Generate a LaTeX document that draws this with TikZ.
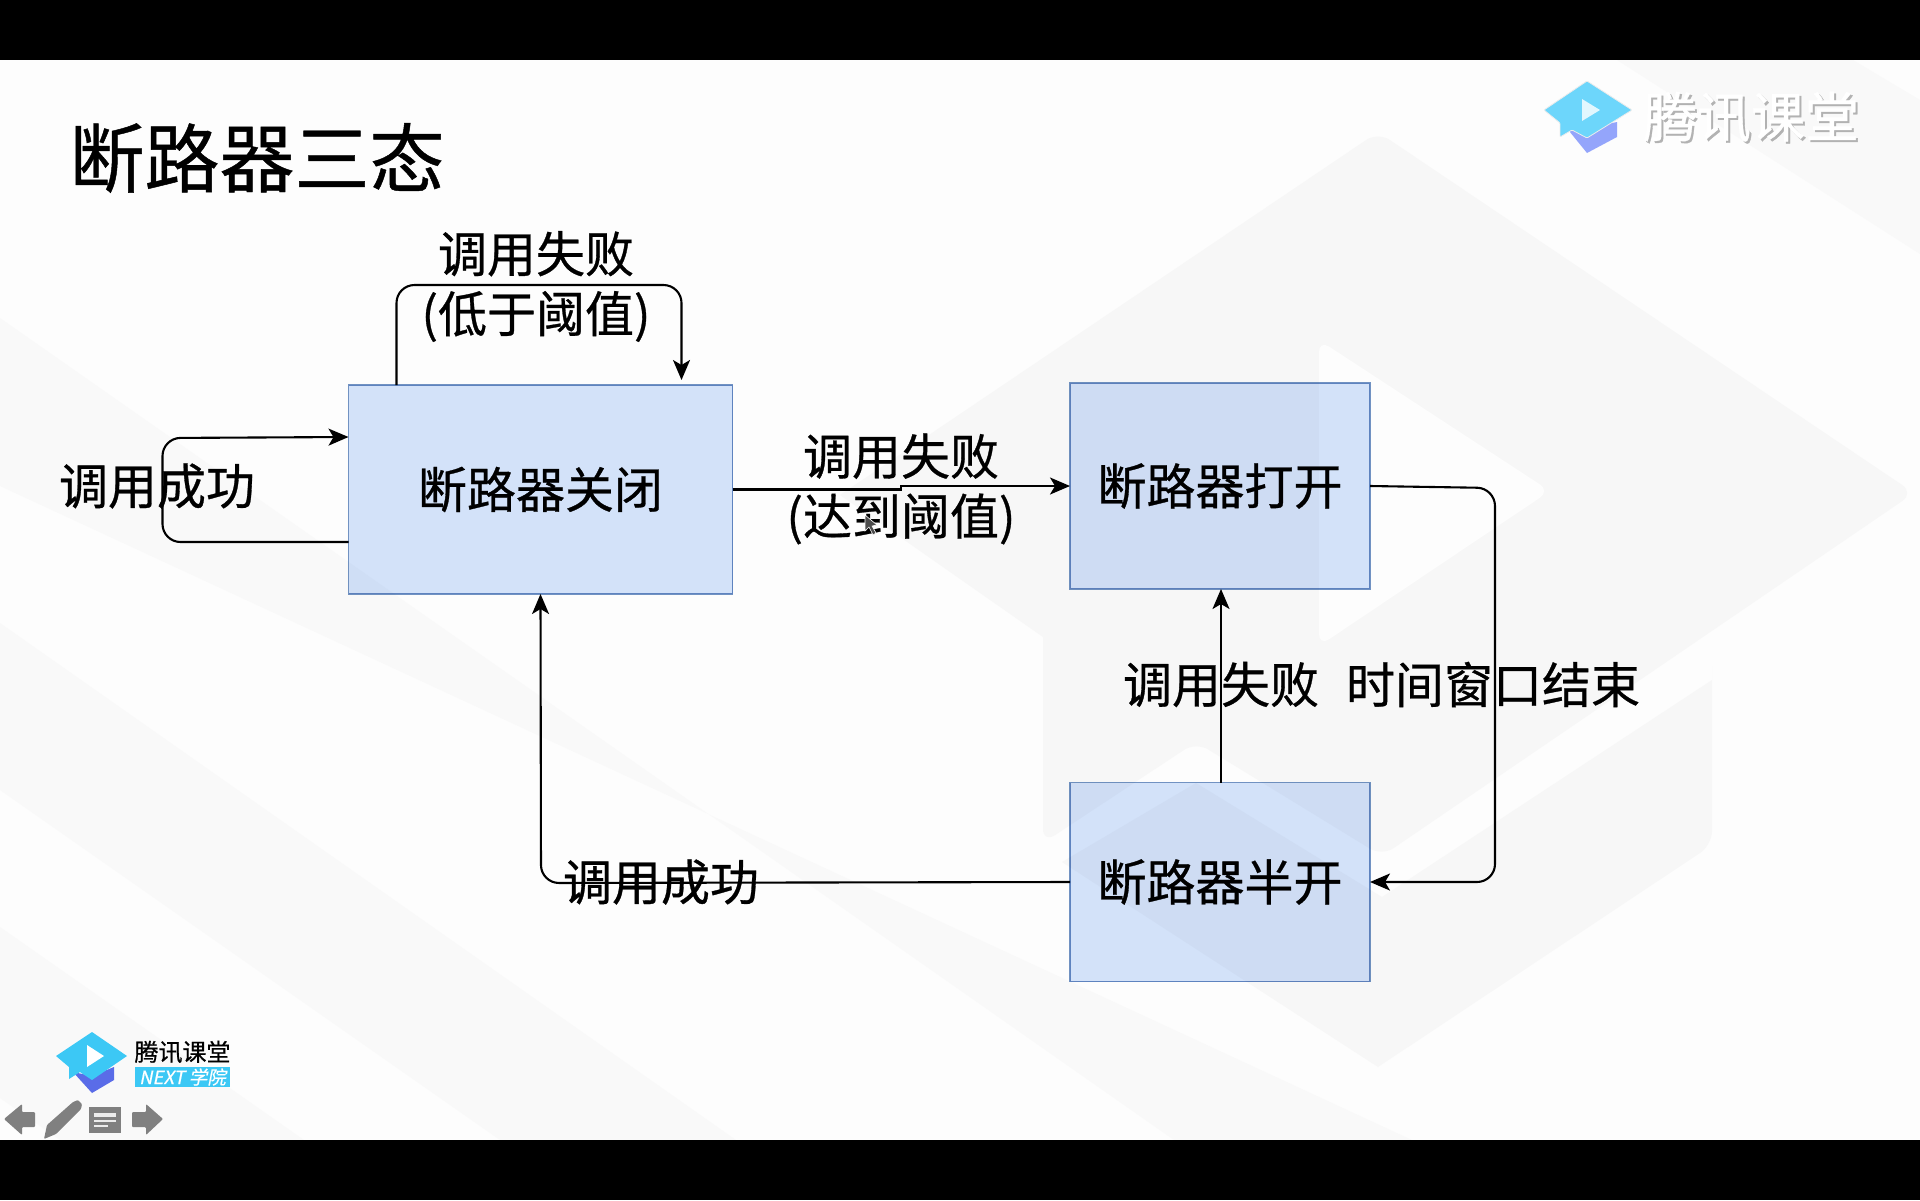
\documentclass[tikz,border=0pt]{standalone}
\usepackage{fontspec}
\setmainfont[FakeBold=0.6]{Noto Sans CJK SC}
\usetikzlibrary{arrows.meta,calc}
\definecolor{pagebg}{HTML}{FDFDFD}
\definecolor{shapeA}{HTML}{F7F7F7}
\definecolor{stripeA}{HTML}{F9F9F9}
\definecolor{boxfill}{HTML}{D5E4FB}
\definecolor{boxline}{HTML}{7294C4}
\definecolor{capA}{HTML}{6DD6FB}
\definecolor{capB}{HTML}{94A5FB}
\definecolor{capC}{HTML}{3CC8F5}
\definecolor{capD}{HTML}{5A6CE8}
\definecolor{iconc}{HTML}{808080}
\tikzset{
  x=1pt,y=-1pt,
  statebox/.style={draw=boxline,fill=boxfill,line width=1.8pt,inner sep=0pt,outer sep=0pt,font=\fontsize{49}{60}\selectfont,blend mode=multiply},
  lbl/.style={inner sep=0pt,align=center,font=\fontsize{49}{60}\selectfont},
  flow/.style={draw=black,line width=2.1pt,rounded corners=18pt,-{Stealth[length=20pt,width=17pt,inset=5pt]}},
}
\begin{document}
\begin{tikzpicture}
\useasboundingbox (0,0) rectangle (1920,1200);
\fill[pagebg] (0,0) rectangle (1920,1200);
% background stripes
\fill[stripeA] (0,318) -- (1174,1140) -- (1412,1140) -- (0,486) -- cycle;
\fill[stripeA] (0,623) -- (736,1140) -- (500,1140) -- (0,790) -- cycle;
\fill[stripeA] (0,927) -- (304,1140) -- (60,1140) -- (0,1098) -- cycle;
\fill[stripeA] (1617,60) -- (1920,254) -- (1920,100) -- (1853,60) -- cycle;
% background play hexagon
\fill[shapeA,rounded corners=14pt] (1378,132) -- (1914,493) -- (1382,856) -- (1196,742) -- (1043,843) [sharp corners] -- (1043,637) -- (840,495) [rounded corners=14pt] -- cycle;
\fill[pagebg,rounded corners=12pt] (1319,340) -- (1550,491) -- (1319,646) -- cycle;
\fill[shapeA,rounded corners=14pt] (1712,680) [sharp corners] -- (1712,680) -- (1382,897) -- (1196,783) -- (1062,862) -- (1378,1067) [rounded corners=14pt] -- (1712,845) -- cycle;
% state boxes
\node[statebox,minimum width=384pt,minimum height=209pt] (b1) at (540.5,489.5) {断路器关闭};
\node[statebox,minimum width=300pt,minimum height=206pt] (b2) at (1220,486) {断路器打开};
\node[statebox,minimum width=300pt,minimum height=199pt] (b3) at (1220,882) {断路器半开};
% title
\node[inner sep=0pt,font=\fontsize{75}{80}\selectfont] (title) at (257,158) {断路器三态};
% connectors
\coordinate (t1) at ($(b1.north west)+(48,0)$);
\coordinate (t2) at ($(b1.north west)+(333,-5)$);
\draw[flow] (t1) -- ($(t1)+(0,-100)$) -- ($(t2)+(0,-95)$) -- (t2);
\coordinate (l1) at ($(b1.south west)+(0,-52)$);
\coordinate (l2) at ($(b1.north west)+(0,52)$);
\draw[flow] (l1) -- ($(l1)+(-186,0)$) -- ($(l2)+(-186,1)$) -- (l2);
\draw[flow,rounded corners=0pt] (b1.east) -- (901,489.5) -- (901,486) -- (b2.west);
\draw[flow] (b2.east) -- (1495,488) -- (1495,882) -- (b3.east);
\draw[flow] ($(b3.north)+(1,0)$) -- ($(b2.south)+(1,0)$);
\draw[flow] (b3.west) -- (541,883) -- (b1.south);
% connector labels
\node[lbl] (la) at (536,286.5) {调用失败\\(低于阈值)};
\node[lbl] (lb) at (157,486) {调用成功};
\node[lbl] (lc) at (901,489) {调用失败\\(达到阈值)};
\node[lbl] (ld) at (1221,684.5) {调用失败};
\node[lbl] (le) at (1493,684.5) {时间窗口结束};
\node[lbl] (lf) at (661,882) {调用成功};
% mouse cursor
\fill[black!70,draw=white,line width=.6pt] (865,515) -- (865,531) -- (869,527) -- (873,535) -- (876,533) -- (872,526) -- (877,525) -- cycle;
% top right logo
\fill[capB] (1565,126) -- (1587,153) -- (1617,137) -- (1617,122) -- (1587,128) -- cycle;
\fill[capA,draw=white!85!gray,line width=.8pt,rounded corners=1pt] (1544,110) -- (1587,81) -- (1632,110) -- (1587,138) -- (1572,130) -- (1560,137) -- (1560,123) -- cycle;
\fill[white!80!capA] (1582,99) -- (1582,121) -- (1600,110) -- cycle;
\node[inner sep=0pt,font=\fontsize{54}{56}\selectfont,text=black!30] (wms) at (1753,119) {腾讯课堂};
\node[inner sep=0pt,font=\fontsize{54}{56}\selectfont,text=white] (wm) at (1751,117) {腾讯课堂};
% bottom left logo
\fill[capD] (73,1072) -- (92,1093) -- (114,1080) -- (114,1067) -- (92,1076) -- cycle;
\fill[capC] (56,1056) -- (92,1032) -- (127,1056) -- (92,1080) -- (80,1072) -- (69,1079) -- (69,1067) -- cycle;
\fill[white] (87,1045) -- (87,1067) -- (104,1056) -- cycle;
\node[inner sep=0pt,font=\fontsize{24}{26}\selectfont] (ft) at (182.5,1052) {腾讯课堂};
\node[fill=capC,inner sep=0pt,minimum width=95pt,minimum height=20pt] (fb) at (182.5,1077) {};
\node[inner sep=0pt,text=white,font=\fontsize{18.5}{20}\selectfont] (ftx) at (fb.center) {\addfontfeatures{FakeSlant=0.2}NEXT 学院};
% bottom icons
\fill[iconc,rounded corners=1pt] (4,1119) -- (22,1104) -- (22,1112) -- (35,1112) -- (35,1127) -- (22,1127) -- (22,1135) -- cycle;
\fill[iconc,rounded corners=1pt] (132,1112) -- (146,1112) -- (146,1104) -- (163,1119) -- (146,1135) -- (146,1127) -- (132,1127) -- cycle;
\fill[iconc,rounded corners=1pt] (44,1139) -- (47,1125) -- (73,1102) -- (78,1100) -- (82,1104) -- (81,1109) -- (56,1134) -- cycle;
\fill[iconc] (89,1107) rectangle (121,1133);
\fill[white!85!gray] (94,1113) rectangle (116,1117);
\fill[white!85!gray] (94,1120) rectangle (116,1122);
\fill[white!85!gray] (94,1125) rectangle (108,1127);
% video bars
\fill[black] (0,0) rectangle (1920,60);
\fill[black] (0,1140) rectangle (1920,1200);
\end{tikzpicture}
\end{document}
